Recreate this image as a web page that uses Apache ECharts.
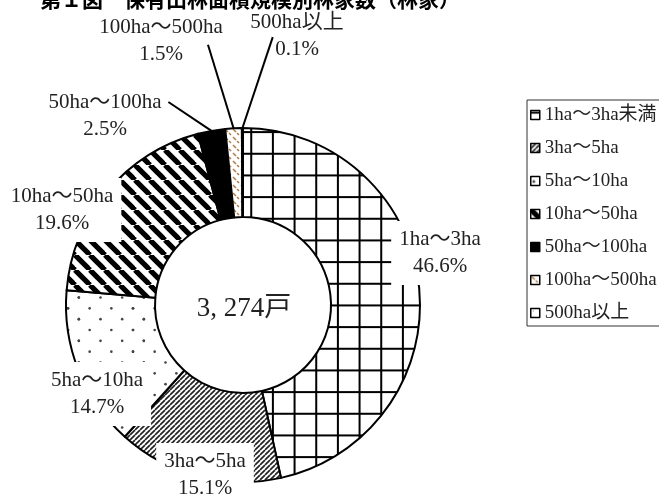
<!DOCTYPE html>
<html><head><meta charset="utf-8">
<script src="https://cdn.jsdelivr.net/npm/echarts@6/dist/echarts.min.js"></script>
<style>html,body{margin:0;padding:0;background:#fff}#c{width:659px;height:495px}</style>
</head><body><div id="c"></div>
<script>
// ---- data ----
const titleText = '第１図　保有山林面積規模別林家数（林家）';
const categories = ['1ha～3ha未満', '3ha～5ha', '5ha～10ha', '10ha～50ha', '50ha～100ha', '100ha～500ha', '500ha以上'];
const labelNames = ['1ha～3ha', '3ha～5ha', '5ha～10ha', '10ha～50ha', '50ha～100ha', '100ha～500ha', '500ha以上'];
const shares = [46.6, 15.1, 14.7, 19.6, 2.5, 1.5, 0.1];
const totalText = '3, 274戸';

// ---- label placement (layout only) ----
const labelPos = [[440, 253], [205, 475], [97, 394], [62, 210], [105, 116], [161, 41], [297, 36]];
// where the leader line meets the label box (fraction of the label box), small slices only
const leaderAttach = [null, null, null, null, [1.06, 0.24], [0.88, 0.57], [0.24, 0.52]];

// ---- fill patterns ----
function tile(w, h, draw) {
  const c = document.createElement('canvas');
  c.width = w; c.height = h;
  const g = c.getContext('2d');
  g.fillStyle = '#fff'; g.fillRect(0, 0, w, h);
  draw(g, w, h);
  return { image: c, repeat: 'repeat' };
}
const gridPat = tile(65, 65, (g) => {
  g.fillStyle = '#000';
  const s = 65 / 3;
  for (let k = 0; k < 3; k++) {
    const x = (12.9 + k * s) % 65;
    g.fillRect(x - 1, 0, 2, 65);
    const y = (2.1 + k * s) % 65;
    g.fillRect(0, y - 1, 65, 2);
  }
});
const fineDiag = tile(5, 5, (g, w, h) => {
  g.strokeStyle = '#222'; g.lineWidth = 1.7;
  for (let k = -1; k <= 1; k++) {
    g.beginPath(); g.moveTo(k * w, h); g.lineTo(k * w + w, 0); g.stroke();
  }
});
const dots = tile(65, 65, (g) => {
  g.fillStyle = '#444';
  const sx = 65 / 3, sy = 65 / 6;
  for (let r = 0; r < 6; r++) {
    for (let c = 0; c < 4; c++) {
      const x = (c * sx + (r % 2 ? sx / 2 : 0) + 3) % 65;
      const y = r * sy + 5;
      g.beginPath(); g.arc(x, y, 1.3, 0, Math.PI * 2); g.fill();
    }
  }
});
const wideDiag = tile(15, 15, (g, w, h) => {
  g.strokeStyle = '#000'; g.lineWidth = 5.2;
  for (let k = -1; k <= 1; k++) {
    g.beginPath(); g.moveTo(k * w, 0); g.lineTo(k * w + w, h); g.stroke();
  }
});
const brownDash = tile(8, 8, (g) => {
  g.strokeStyle = '#b07a45'; g.lineWidth = 1.5;
  g.beginPath(); g.moveTo(1, 1); g.lineTo(4, 4); g.stroke();
  g.beginPath(); g.moveTo(5, 5); g.lineTo(7, 7); g.stroke();
});
const tinyPat = tile(6, 6, (g) => {
  g.fillStyle = '#777'; g.fillRect(2, 2, 1, 1);
});
const patterns = [gridPat, fineDiag, dots, wideDiag, '#000', brownDash, tinyPat];

const serif = '"Liberation Serif", "Noto Sans CJK JP", serif';

const chart = echarts.init(document.getElementById('c'), null, { renderer: 'canvas' });
chart.setOption({
  backgroundColor: '#fff',
  animation: false,
  title: {
    text: titleText, left: 40, top: -11, padding: 0,
    textStyle: { fontFamily: '"Noto Sans CJK JP", sans-serif', fontWeight: 'bold', fontSize: 21, color: '#000' }
  },
  legend: {
    orient: 'vertical', left: 527, top: 100,
    data: categories,
    icon: 'rect', itemWidth: 9, itemHeight: 9, itemGap: 13,
    selectedMode: false,
    textStyle: { fontFamily: serif, fontSize: 19, lineHeight: 20, color: '#222' },
    itemStyle: { borderColor: '#000', borderWidth: 1.5 },
    borderColor: '#333', borderWidth: 1, padding: [5, 10, 3, 3]
  },
  graphic: [{
    type: 'text', x: 244, y: 309, z: 10,
    style: { text: totalText, font: '27px ' + serif, fill: '#222', align: 'center', verticalAlign: 'middle' }
  }],
  series: [{
    type: 'pie',
    center: [243, 305],
    radius: [88, 177],
    startAngle: 90,
    clockwise: true,
    avoidLabelOverlap: false,
    emphasis: { disabled: true },
    itemStyle: { borderColor: '#000', borderWidth: 2 },
    label: {
      show: true, position: 'outside',
      formatter: (p) => labelNames[p.dataIndex] + '\n' + shares[p.dataIndex].toFixed(1) + '%',
      fontFamily: serif, fontSize: 21, lineHeight: 27, color: '#222',
      backgroundColor: '#fff', padding: [5, 8], align: 'center'
    },
    labelLine: { show: true, length: 10, length2: 0, smooth: false, lineStyle: { color: '#000', width: 2 } },
    labelLayout: (params) => {
      const i = params.dataIndex;
      const p = labelPos[i];
      const out = { x: p[0], y: p[1], align: 'center', verticalAlign: 'middle' };
      const a = leaderAttach[i];
      if (a && params.labelLinePoints && params.labelRect) {
        const r = params.labelRect;
        const rx = p[0] - r.width / 2, ry = p[1] - r.height / 2;
        const start = params.labelLinePoints[0];
        out.labelLinePoints = [start, [rx + a[0] * r.width, ry + a[1] * r.height]];
      }
      return out;
    },
    data: categories.map((n, i) => ({
      name: n, value: shares[i],
      itemStyle: { color: patterns[i] },
      label: i >= 4 ? { backgroundColor: 'transparent', padding: 0 } : undefined,
      labelLine: { show: i >= 4 }
    }))
  }]
});
</script>
</body></html>
